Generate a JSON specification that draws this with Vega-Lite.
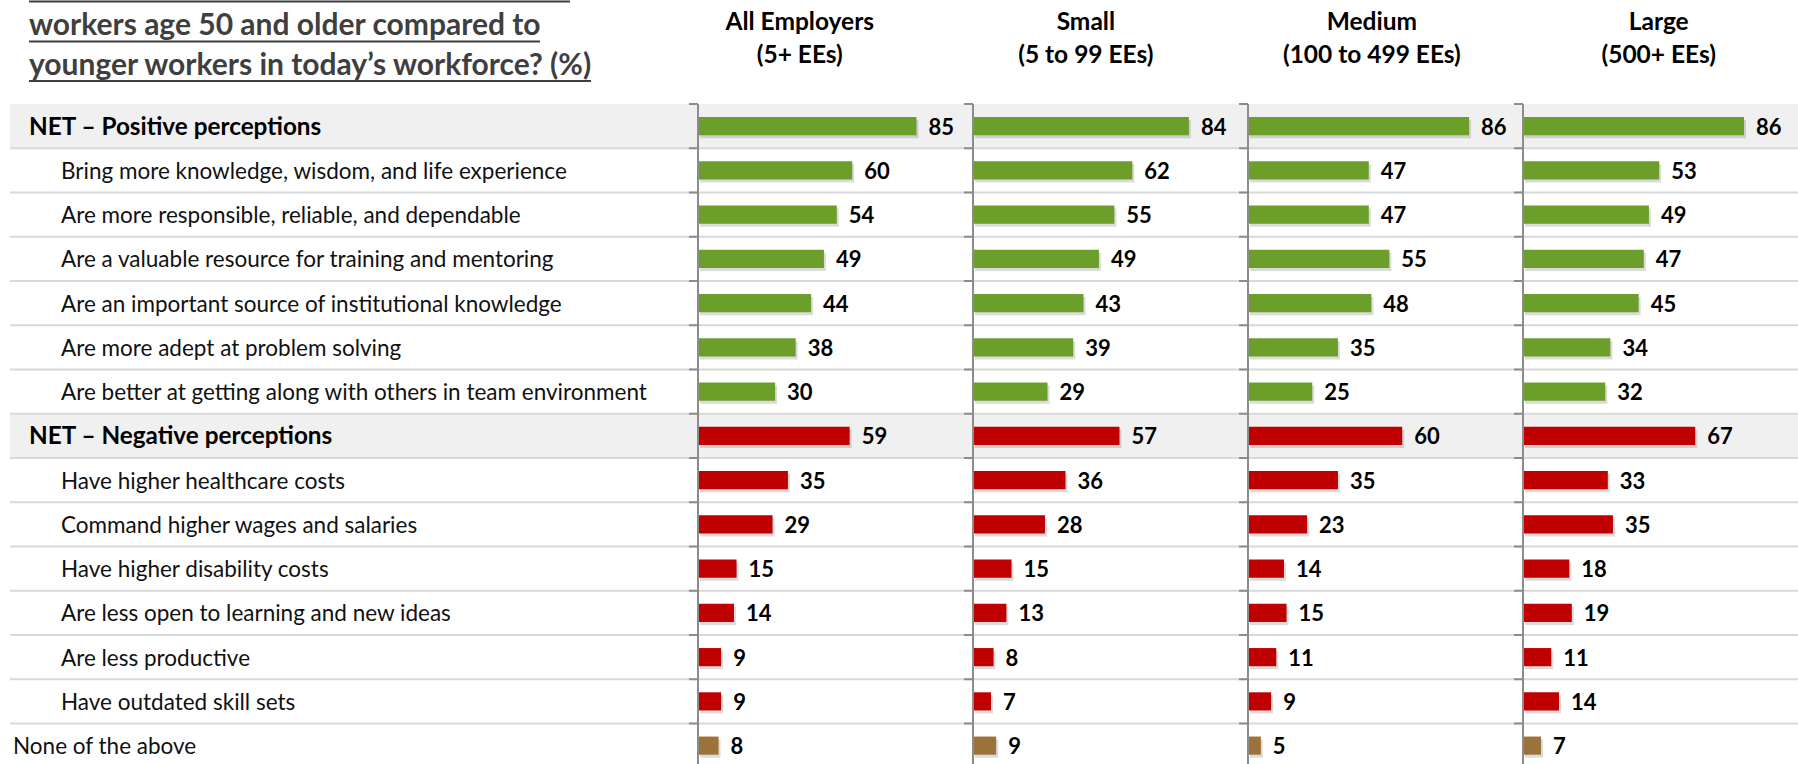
{
  "$schema": "https://vega.github.io/schema/vega-lite/v6.json",
  "padding": 0,
  "background": "white",
  "spacing": 0,
  "bounds": "flush",
  "columns": 5,
  "config": {"view": {"stroke": null}, "concat": {"spacing": 0}, "font": "Lato"},
  "datasets": {
    "rows": [
      {"item": "NET – Positive perceptions", "group": "Positive", "level": "net"},
      {"item": "Bring more knowledge, wisdom, and life experience", "group": "Positive", "level": "item"},
      {"item": "Are more responsible, reliable, and dependable", "group": "Positive", "level": "item"},
      {"item": "Are a valuable resource for training and mentoring", "group": "Positive", "level": "item"},
      {"item": "Are an important source of institutional knowledge", "group": "Positive", "level": "item"},
      {"item": "Are more adept at problem solving", "group": "Positive", "level": "item"},
      {"item": "Are better at getting along with others in team environment", "group": "Positive", "level": "item"},
      {"item": "NET – Negative perceptions", "group": "Negative", "level": "net"},
      {"item": "Have higher healthcare costs", "group": "Negative", "level": "item"},
      {"item": "Command higher wages and salaries", "group": "Negative", "level": "item"},
      {"item": "Have higher disability costs", "group": "Negative", "level": "item"},
      {"item": "Are less open to learning and new ideas", "group": "Negative", "level": "item"},
      {"item": "Are less productive", "group": "Negative", "level": "item"},
      {"item": "Have outdated skill sets", "group": "Negative", "level": "item"},
      {"item": "None of the above", "group": "None", "level": "none"}
    ],
    "vals": [
      {"seg": "All", "item": "NET – Positive perceptions", "group": "Positive", "value": 85},
      {"seg": "All", "item": "Bring more knowledge, wisdom, and life experience", "group": "Positive", "value": 60},
      {"seg": "All", "item": "Are more responsible, reliable, and dependable", "group": "Positive", "value": 54},
      {"seg": "All", "item": "Are a valuable resource for training and mentoring", "group": "Positive", "value": 49},
      {"seg": "All", "item": "Are an important source of institutional knowledge", "group": "Positive", "value": 44},
      {"seg": "All", "item": "Are more adept at problem solving", "group": "Positive", "value": 38},
      {"seg": "All", "item": "Are better at getting along with others in team environment", "group": "Positive", "value": 30},
      {"seg": "All", "item": "NET – Negative perceptions", "group": "Negative", "value": 59},
      {"seg": "All", "item": "Have higher healthcare costs", "group": "Negative", "value": 35},
      {"seg": "All", "item": "Command higher wages and salaries", "group": "Negative", "value": 29},
      {"seg": "All", "item": "Have higher disability costs", "group": "Negative", "value": 15},
      {"seg": "All", "item": "Are less open to learning and new ideas", "group": "Negative", "value": 14},
      {"seg": "All", "item": "Are less productive", "group": "Negative", "value": 9},
      {"seg": "All", "item": "Have outdated skill sets", "group": "Negative", "value": 9},
      {"seg": "All", "item": "None of the above", "group": "None", "value": 8},
      {"seg": "Small", "item": "NET – Positive perceptions", "group": "Positive", "value": 84},
      {"seg": "Small", "item": "Bring more knowledge, wisdom, and life experience", "group": "Positive", "value": 62},
      {"seg": "Small", "item": "Are more responsible, reliable, and dependable", "group": "Positive", "value": 55},
      {"seg": "Small", "item": "Are a valuable resource for training and mentoring", "group": "Positive", "value": 49},
      {"seg": "Small", "item": "Are an important source of institutional knowledge", "group": "Positive", "value": 43},
      {"seg": "Small", "item": "Are more adept at problem solving", "group": "Positive", "value": 39},
      {"seg": "Small", "item": "Are better at getting along with others in team environment", "group": "Positive", "value": 29},
      {"seg": "Small", "item": "NET – Negative perceptions", "group": "Negative", "value": 57},
      {"seg": "Small", "item": "Have higher healthcare costs", "group": "Negative", "value": 36},
      {"seg": "Small", "item": "Command higher wages and salaries", "group": "Negative", "value": 28},
      {"seg": "Small", "item": "Have higher disability costs", "group": "Negative", "value": 15},
      {"seg": "Small", "item": "Are less open to learning and new ideas", "group": "Negative", "value": 13},
      {"seg": "Small", "item": "Are less productive", "group": "Negative", "value": 8},
      {"seg": "Small", "item": "Have outdated skill sets", "group": "Negative", "value": 7},
      {"seg": "Small", "item": "None of the above", "group": "None", "value": 9},
      {"seg": "Medium", "item": "NET – Positive perceptions", "group": "Positive", "value": 86},
      {"seg": "Medium", "item": "Bring more knowledge, wisdom, and life experience", "group": "Positive", "value": 47},
      {"seg": "Medium", "item": "Are more responsible, reliable, and dependable", "group": "Positive", "value": 47},
      {"seg": "Medium", "item": "Are a valuable resource for training and mentoring", "group": "Positive", "value": 55},
      {"seg": "Medium", "item": "Are an important source of institutional knowledge", "group": "Positive", "value": 48},
      {"seg": "Medium", "item": "Are more adept at problem solving", "group": "Positive", "value": 35},
      {"seg": "Medium", "item": "Are better at getting along with others in team environment", "group": "Positive", "value": 25},
      {"seg": "Medium", "item": "NET – Negative perceptions", "group": "Negative", "value": 60},
      {"seg": "Medium", "item": "Have higher healthcare costs", "group": "Negative", "value": 35},
      {"seg": "Medium", "item": "Command higher wages and salaries", "group": "Negative", "value": 23},
      {"seg": "Medium", "item": "Have higher disability costs", "group": "Negative", "value": 14},
      {"seg": "Medium", "item": "Are less open to learning and new ideas", "group": "Negative", "value": 15},
      {"seg": "Medium", "item": "Are less productive", "group": "Negative", "value": 11},
      {"seg": "Medium", "item": "Have outdated skill sets", "group": "Negative", "value": 9},
      {"seg": "Medium", "item": "None of the above", "group": "None", "value": 5},
      {"seg": "Large", "item": "NET – Positive perceptions", "group": "Positive", "value": 86},
      {"seg": "Large", "item": "Bring more knowledge, wisdom, and life experience", "group": "Positive", "value": 53},
      {"seg": "Large", "item": "Are more responsible, reliable, and dependable", "group": "Positive", "value": 49},
      {"seg": "Large", "item": "Are a valuable resource for training and mentoring", "group": "Positive", "value": 47},
      {"seg": "Large", "item": "Are an important source of institutional knowledge", "group": "Positive", "value": 45},
      {"seg": "Large", "item": "Are more adept at problem solving", "group": "Positive", "value": 34},
      {"seg": "Large", "item": "Are better at getting along with others in team environment", "group": "Positive", "value": 32},
      {"seg": "Large", "item": "NET – Negative perceptions", "group": "Negative", "value": 67},
      {"seg": "Large", "item": "Have higher healthcare costs", "group": "Negative", "value": 33},
      {"seg": "Large", "item": "Command higher wages and salaries", "group": "Negative", "value": 35},
      {"seg": "Large", "item": "Have higher disability costs", "group": "Negative", "value": 18},
      {"seg": "Large", "item": "Are less open to learning and new ideas", "group": "Negative", "value": 19},
      {"seg": "Large", "item": "Are less productive", "group": "Negative", "value": 11},
      {"seg": "Large", "item": "Have outdated skill sets", "group": "Negative", "value": 14},
      {"seg": "Large", "item": "None of the above", "group": "None", "value": 7}
    ]
  },
  "concat": [
    {
      "width": 698, "height": 104,
      "data": {"values": [{}]},
      "layer": [
        {"mark": {"type": "text", "text": ["workers age 50 and older compared to", "younger workers in today’s workforce? (%)"], "align": "left", "baseline": "alphabetic", "fontSize": 30, "fontWeight": "bold", "color": "#3F3F3F", "lineHeight": 40},
         "encoding": {"x": {"datum": 29, "type": "quantitative", "scale": {"domain": [0, 698], "nice": false}, "axis": null},
                      "y": {"datum": 35, "type": "quantitative", "scale": {"domain": [0, 104], "nice": false, "reverse": true}, "axis": null}}},
        {"mark": {"type": "rule", "color": "#3F3F3F", "strokeWidth": 2},
         "encoding": {"x": {"datum": 29, "type": "quantitative"}, "x2": {"datum": 570}, "y": {"datum": 1.5, "type": "quantitative"}}},
        {"mark": {"type": "rule", "color": "#3F3F3F", "strokeWidth": 2},
         "encoding": {"x": {"datum": 29, "type": "quantitative"}, "x2": {"datum": 540}, "y": {"datum": 41.5, "type": "quantitative"}}},
        {"mark": {"type": "rule", "color": "#3F3F3F", "strokeWidth": 2},
         "encoding": {"x": {"datum": 29, "type": "quantitative"}, "x2": {"datum": 591}, "y": {"datum": 81, "type": "quantitative"}}}
      ]
    },
    {
      "width": 275, "height": 104,
      "data": {"values": [{}]},
      "mark": {"type": "text", "text": ["All Employers", "(5+ EEs)"], "align": "center", "baseline": "alphabetic", "fontSize": 24.5, "fontWeight": "bold", "color": "#000000", "lineHeight": 33},
      "encoding": {"x": {"datum": 39.6, "type": "quantitative", "scale": {"domain": [0, 107], "nice": false}, "axis": null},
                   "y": {"datum": 30, "type": "quantitative", "scale": {"domain": [0, 104], "nice": false, "reverse": true}, "axis": null}}
    },
    {
      "width": 275, "height": 104,
      "data": {"values": [{}]},
      "mark": {"type": "text", "text": ["Small", "(5 to 99 EEs)"], "align": "center", "baseline": "alphabetic", "fontSize": 24.5, "fontWeight": "bold", "color": "#000000", "lineHeight": 33},
      "encoding": {"x": {"datum": 43.9, "type": "quantitative", "scale": {"domain": [0, 107], "nice": false}, "axis": null},
                   "y": {"datum": 30, "type": "quantitative", "scale": {"domain": [0, 104], "nice": false, "reverse": true}, "axis": null}}
    },
    {
      "width": 275, "height": 104,
      "data": {"values": [{}]},
      "mark": {"type": "text", "text": ["Medium", "(100 to 499 EEs)"], "align": "center", "baseline": "alphabetic", "fontSize": 24.5, "fontWeight": "bold", "color": "#000000", "lineHeight": 33},
      "encoding": {"x": {"datum": 48.2, "type": "quantitative", "scale": {"domain": [0, 107], "nice": false}, "axis": null},
                   "y": {"datum": 30, "type": "quantitative", "scale": {"domain": [0, 104], "nice": false, "reverse": true}, "axis": null}}
    },
    {
      "width": 275, "height": 104,
      "data": {"values": [{}]},
      "mark": {"type": "text", "text": ["Large", "(500+ EEs)"], "align": "center", "baseline": "alphabetic", "fontSize": 24.5, "fontWeight": "bold", "color": "#000000", "lineHeight": 33},
      "encoding": {"x": {"datum": 52.8, "type": "quantitative", "scale": {"domain": [0, 107], "nice": false}, "axis": null},
                   "y": {"datum": 30, "type": "quantitative", "scale": {"domain": [0, 104], "nice": false, "reverse": true}, "axis": null}}
    },
    {
      "width": 698, "height": 660,
      "data": {"name": "rows"},
      "encoding": {"y": {"field": "item", "type": "nominal", "axis": null,
        "scale": {"domain": ["NET – Positive perceptions", "Bring more knowledge, wisdom, and life experience", "Are more responsible, reliable, and dependable", "Are a valuable resource for training and mentoring", "Are an important source of institutional knowledge", "Are more adept at problem solving", "Are better at getting along with others in team environment", "NET – Negative perceptions", "Have higher healthcare costs", "Command higher wages and salaries", "Have higher disability costs", "Are less open to learning and new ideas", "Are less productive", "Have outdated skill sets", "None of the above"], "range": [0, 663.75], "paddingInner": 0, "paddingOuter": 0, "align": 0}}},
      "layer": [
        {"transform": [{"filter": "datum.level === 'net'"}],
         "mark": {"type": "rect", "color": "#F0F0F0"},
         "encoding": {"x": {"datum": 10, "type": "quantitative", "scale": {"domain": [0, 698], "nice": false}, "axis": null}, "x2": {"datum": 698}}},
        {"transform": [{"filter": "datum.level !== 'none'"}],
         "mark": {"type": "rule", "color": "#D9D9D9", "strokeWidth": 2},
         "encoding": {"x": {"datum": 10, "type": "quantitative"}, "x2": {"datum": 698},
           "y": {"field": "item", "type": "nominal", "bandPosition": 1, "axis": null,
             "scale": {"domain": ["NET – Positive perceptions", "Bring more knowledge, wisdom, and life experience", "Are more responsible, reliable, and dependable", "Are a valuable resource for training and mentoring", "Are an important source of institutional knowledge", "Are more adept at problem solving", "Are better at getting along with others in team environment", "NET – Negative perceptions", "Have higher healthcare costs", "Command higher wages and salaries", "Have higher disability costs", "Are less open to learning and new ideas", "Are less productive", "Have outdated skill sets", "None of the above"], "range": [0, 663.75], "paddingInner": 0, "paddingOuter": 0, "align": 0}}}},
        {"transform": [{"filter": "datum.level === 'net'"}],
         "mark": {"type": "text", "align": "left", "baseline": "middle", "dy": 1.5, "fontSize": 24.3, "fontWeight": "bold", "color": "#000000"},
         "encoding": {"x": {"datum": 29, "type": "quantitative"}, "text": {"field": "item"}}},
        {"transform": [{"filter": "datum.level === 'item'"}],
         "mark": {"type": "text", "align": "left", "baseline": "middle", "dy": 1.5, "fontSize": 22.5, "color": "#111111"},
         "encoding": {"x": {"datum": 61, "type": "quantitative"}, "text": {"field": "item"}}},
        {"transform": [{"filter": "datum.level === 'none'"}],
         "mark": {"type": "text", "align": "left", "baseline": "middle", "dy": 1.5, "fontSize": 22.5, "color": "#111111"},
         "encoding": {"x": {"datum": 13, "type": "quantitative"}, "text": {"field": "item"}}}
      ]
    },
    {
      "width": 275, "height": 660,
      "data": {"name": "rows"},
      "encoding": {"y": {"field": "item", "type": "nominal", "axis": null,
        "scale": {"domain": ["NET – Positive perceptions", "Bring more knowledge, wisdom, and life experience", "Are more responsible, reliable, and dependable", "Are a valuable resource for training and mentoring", "Are an important source of institutional knowledge", "Are more adept at problem solving", "Are better at getting along with others in team environment", "NET – Negative perceptions", "Have higher healthcare costs", "Command higher wages and salaries", "Have higher disability costs", "Are less open to learning and new ideas", "Are less productive", "Have outdated skill sets", "None of the above"], "range": [0, 663.75], "paddingInner": 0, "paddingOuter": 0, "align": 0}}},
      "layer": [
        {"transform": [{"filter": "datum.level === 'net'"}],
         "mark": {"type": "rect", "color": "#F0F0F0"},
         "encoding": {"x": {"datum": 0, "type": "quantitative", "scale": {"domain": [0, 107], "nice": false}, "axis": null}, "x2": {"datum": 107}}},
        {"transform": [{"filter": "datum.level !== 'none'"}],
         "mark": {"type": "rule", "color": "#D9D9D9", "strokeWidth": 2},
         "encoding": {"x": {"datum": 0, "type": "quantitative"}, "x2": {"datum": 107},
           "y": {"field": "item", "type": "nominal", "bandPosition": 1, "axis": null,
             "scale": {"domain": ["NET – Positive perceptions", "Bring more knowledge, wisdom, and life experience", "Are more responsible, reliable, and dependable", "Are a valuable resource for training and mentoring", "Are an important source of institutional knowledge", "Are more adept at problem solving", "Are better at getting along with others in team environment", "NET – Negative perceptions", "Have higher healthcare costs", "Command higher wages and salaries", "Have higher disability costs", "Are less open to learning and new ideas", "Are less productive", "Have outdated skill sets", "None of the above"], "range": [0, 663.75], "paddingInner": 0, "paddingOuter": 0, "align": 0}}}},
        {"data": {"name": "vals"}, "transform": [{"filter": "datum.seg === 'All'"}],
         "mark": {"type": "bar", "height": {"band": 0.41}, "color": "#000000", "opacity": 0.14, "xOffset": 2, "yOffset": 3},
         "encoding": {"x": {"field": "value", "type": "quantitative"}}},
        {"data": {"name": "vals"}, "transform": [{"filter": "datum.seg === 'All'"}],
         "mark": {"type": "bar", "height": {"band": 0.41}},
         "encoding": {"x": {"field": "value", "type": "quantitative"},
           "color": {"field": "group", "type": "nominal", "legend": null, "scale": {"domain": ["Positive", "Negative", "None"], "range": ["#6B9F2A", "#C00000", "#9B733A"]}}}},
        {"data": {"name": "vals"}, "transform": [{"filter": "datum.seg === 'All'"}],
         "mark": {"type": "text", "align": "left", "baseline": "middle", "dx": 12, "dy": 1.5, "fontSize": 22, "fontWeight": "bold", "color": "#000000"},
         "encoding": {"x": {"field": "value", "type": "quantitative"}, "text": {"field": "value", "type": "quantitative"}}},
        {"mark": {"type": "rule", "color": "#8C8C8C", "strokeWidth": 2},
         "encoding": {"x": {"datum": -3.5, "type": "quantitative"}, "x2": {"datum": 0},
           "y": {"field": "item", "type": "nominal", "bandPosition": 0, "axis": null,
             "scale": {"domain": ["NET – Positive perceptions", "Bring more knowledge, wisdom, and life experience", "Are more responsible, reliable, and dependable", "Are a valuable resource for training and mentoring", "Are an important source of institutional knowledge", "Are more adept at problem solving", "Are better at getting along with others in team environment", "NET – Negative perceptions", "Have higher healthcare costs", "Command higher wages and salaries", "Have higher disability costs", "Are less open to learning and new ideas", "Are less productive", "Have outdated skill sets", "None of the above"], "range": [0, 663.75], "paddingInner": 0, "paddingOuter": 0, "align": 0}}}},
        {"data": {"values": [{}]},
         "mark": {"type": "rule", "color": "#8C8C8C", "strokeWidth": 2},
         "encoding": {"x": {"datum": 0, "type": "quantitative"}, "y": {"value": 0}, "y2": {"value": "height"}}}
      ]
    },
    {
      "width": 275, "height": 660,
      "data": {"name": "rows"},
      "encoding": {"y": {"field": "item", "type": "nominal", "axis": null,
        "scale": {"domain": ["NET – Positive perceptions", "Bring more knowledge, wisdom, and life experience", "Are more responsible, reliable, and dependable", "Are a valuable resource for training and mentoring", "Are an important source of institutional knowledge", "Are more adept at problem solving", "Are better at getting along with others in team environment", "NET – Negative perceptions", "Have higher healthcare costs", "Command higher wages and salaries", "Have higher disability costs", "Are less open to learning and new ideas", "Are less productive", "Have outdated skill sets", "None of the above"], "range": [0, 663.75], "paddingInner": 0, "paddingOuter": 0, "align": 0}}},
      "layer": [
        {"transform": [{"filter": "datum.level === 'net'"}],
         "mark": {"type": "rect", "color": "#F0F0F0"},
         "encoding": {"x": {"datum": 0, "type": "quantitative", "scale": {"domain": [0, 107], "nice": false}, "axis": null}, "x2": {"datum": 107}}},
        {"transform": [{"filter": "datum.level !== 'none'"}],
         "mark": {"type": "rule", "color": "#D9D9D9", "strokeWidth": 2},
         "encoding": {"x": {"datum": 0, "type": "quantitative"}, "x2": {"datum": 107},
           "y": {"field": "item", "type": "nominal", "bandPosition": 1, "axis": null,
             "scale": {"domain": ["NET – Positive perceptions", "Bring more knowledge, wisdom, and life experience", "Are more responsible, reliable, and dependable", "Are a valuable resource for training and mentoring", "Are an important source of institutional knowledge", "Are more adept at problem solving", "Are better at getting along with others in team environment", "NET – Negative perceptions", "Have higher healthcare costs", "Command higher wages and salaries", "Have higher disability costs", "Are less open to learning and new ideas", "Are less productive", "Have outdated skill sets", "None of the above"], "range": [0, 663.75], "paddingInner": 0, "paddingOuter": 0, "align": 0}}}},
        {"data": {"name": "vals"}, "transform": [{"filter": "datum.seg === 'Small'"}],
         "mark": {"type": "bar", "height": {"band": 0.41}, "color": "#000000", "opacity": 0.14, "xOffset": 2, "yOffset": 3},
         "encoding": {"x": {"field": "value", "type": "quantitative"}}},
        {"data": {"name": "vals"}, "transform": [{"filter": "datum.seg === 'Small'"}],
         "mark": {"type": "bar", "height": {"band": 0.41}},
         "encoding": {"x": {"field": "value", "type": "quantitative"},
           "color": {"field": "group", "type": "nominal", "legend": null, "scale": {"domain": ["Positive", "Negative", "None"], "range": ["#6B9F2A", "#C00000", "#9B733A"]}}}},
        {"data": {"name": "vals"}, "transform": [{"filter": "datum.seg === 'Small'"}],
         "mark": {"type": "text", "align": "left", "baseline": "middle", "dx": 12, "dy": 1.5, "fontSize": 22, "fontWeight": "bold", "color": "#000000"},
         "encoding": {"x": {"field": "value", "type": "quantitative"}, "text": {"field": "value", "type": "quantitative"}}},
        {"mark": {"type": "rule", "color": "#8C8C8C", "strokeWidth": 2},
         "encoding": {"x": {"datum": -3.5, "type": "quantitative"}, "x2": {"datum": 0},
           "y": {"field": "item", "type": "nominal", "bandPosition": 0, "axis": null,
             "scale": {"domain": ["NET – Positive perceptions", "Bring more knowledge, wisdom, and life experience", "Are more responsible, reliable, and dependable", "Are a valuable resource for training and mentoring", "Are an important source of institutional knowledge", "Are more adept at problem solving", "Are better at getting along with others in team environment", "NET – Negative perceptions", "Have higher healthcare costs", "Command higher wages and salaries", "Have higher disability costs", "Are less open to learning and new ideas", "Are less productive", "Have outdated skill sets", "None of the above"], "range": [0, 663.75], "paddingInner": 0, "paddingOuter": 0, "align": 0}}}},
        {"data": {"values": [{}]},
         "mark": {"type": "rule", "color": "#8C8C8C", "strokeWidth": 2},
         "encoding": {"x": {"datum": 0, "type": "quantitative"}, "y": {"value": 0}, "y2": {"value": "height"}}}
      ]
    },
    {
      "width": 275, "height": 660,
      "data": {"name": "rows"},
      "encoding": {"y": {"field": "item", "type": "nominal", "axis": null,
        "scale": {"domain": ["NET – Positive perceptions", "Bring more knowledge, wisdom, and life experience", "Are more responsible, reliable, and dependable", "Are a valuable resource for training and mentoring", "Are an important source of institutional knowledge", "Are more adept at problem solving", "Are better at getting along with others in team environment", "NET – Negative perceptions", "Have higher healthcare costs", "Command higher wages and salaries", "Have higher disability costs", "Are less open to learning and new ideas", "Are less productive", "Have outdated skill sets", "None of the above"], "range": [0, 663.75], "paddingInner": 0, "paddingOuter": 0, "align": 0}}},
      "layer": [
        {"transform": [{"filter": "datum.level === 'net'"}],
         "mark": {"type": "rect", "color": "#F0F0F0"},
         "encoding": {"x": {"datum": 0, "type": "quantitative", "scale": {"domain": [0, 107], "nice": false}, "axis": null}, "x2": {"datum": 107}}},
        {"transform": [{"filter": "datum.level !== 'none'"}],
         "mark": {"type": "rule", "color": "#D9D9D9", "strokeWidth": 2},
         "encoding": {"x": {"datum": 0, "type": "quantitative"}, "x2": {"datum": 107},
           "y": {"field": "item", "type": "nominal", "bandPosition": 1, "axis": null,
             "scale": {"domain": ["NET – Positive perceptions", "Bring more knowledge, wisdom, and life experience", "Are more responsible, reliable, and dependable", "Are a valuable resource for training and mentoring", "Are an important source of institutional knowledge", "Are more adept at problem solving", "Are better at getting along with others in team environment", "NET – Negative perceptions", "Have higher healthcare costs", "Command higher wages and salaries", "Have higher disability costs", "Are less open to learning and new ideas", "Are less productive", "Have outdated skill sets", "None of the above"], "range": [0, 663.75], "paddingInner": 0, "paddingOuter": 0, "align": 0}}}},
        {"data": {"name": "vals"}, "transform": [{"filter": "datum.seg === 'Medium'"}],
         "mark": {"type": "bar", "height": {"band": 0.41}, "color": "#000000", "opacity": 0.14, "xOffset": 2, "yOffset": 3},
         "encoding": {"x": {"field": "value", "type": "quantitative"}}},
        {"data": {"name": "vals"}, "transform": [{"filter": "datum.seg === 'Medium'"}],
         "mark": {"type": "bar", "height": {"band": 0.41}},
         "encoding": {"x": {"field": "value", "type": "quantitative"},
           "color": {"field": "group", "type": "nominal", "legend": null, "scale": {"domain": ["Positive", "Negative", "None"], "range": ["#6B9F2A", "#C00000", "#9B733A"]}}}},
        {"data": {"name": "vals"}, "transform": [{"filter": "datum.seg === 'Medium'"}],
         "mark": {"type": "text", "align": "left", "baseline": "middle", "dx": 12, "dy": 1.5, "fontSize": 22, "fontWeight": "bold", "color": "#000000"},
         "encoding": {"x": {"field": "value", "type": "quantitative"}, "text": {"field": "value", "type": "quantitative"}}},
        {"mark": {"type": "rule", "color": "#8C8C8C", "strokeWidth": 2},
         "encoding": {"x": {"datum": -3.5, "type": "quantitative"}, "x2": {"datum": 0},
           "y": {"field": "item", "type": "nominal", "bandPosition": 0, "axis": null,
             "scale": {"domain": ["NET – Positive perceptions", "Bring more knowledge, wisdom, and life experience", "Are more responsible, reliable, and dependable", "Are a valuable resource for training and mentoring", "Are an important source of institutional knowledge", "Are more adept at problem solving", "Are better at getting along with others in team environment", "NET – Negative perceptions", "Have higher healthcare costs", "Command higher wages and salaries", "Have higher disability costs", "Are less open to learning and new ideas", "Are less productive", "Have outdated skill sets", "None of the above"], "range": [0, 663.75], "paddingInner": 0, "paddingOuter": 0, "align": 0}}}},
        {"data": {"values": [{}]},
         "mark": {"type": "rule", "color": "#8C8C8C", "strokeWidth": 2},
         "encoding": {"x": {"datum": 0, "type": "quantitative"}, "y": {"value": 0}, "y2": {"value": "height"}}}
      ]
    },
    {
      "width": 275, "height": 660,
      "data": {"name": "rows"},
      "encoding": {"y": {"field": "item", "type": "nominal", "axis": null,
        "scale": {"domain": ["NET – Positive perceptions", "Bring more knowledge, wisdom, and life experience", "Are more responsible, reliable, and dependable", "Are a valuable resource for training and mentoring", "Are an important source of institutional knowledge", "Are more adept at problem solving", "Are better at getting along with others in team environment", "NET – Negative perceptions", "Have higher healthcare costs", "Command higher wages and salaries", "Have higher disability costs", "Are less open to learning and new ideas", "Are less productive", "Have outdated skill sets", "None of the above"], "range": [0, 663.75], "paddingInner": 0, "paddingOuter": 0, "align": 0}}},
      "layer": [
        {"transform": [{"filter": "datum.level === 'net'"}],
         "mark": {"type": "rect", "color": "#F0F0F0"},
         "encoding": {"x": {"datum": 0, "type": "quantitative", "scale": {"domain": [0, 107], "nice": false}, "axis": null}, "x2": {"datum": 107}}},
        {"transform": [{"filter": "datum.level !== 'none'"}],
         "mark": {"type": "rule", "color": "#D9D9D9", "strokeWidth": 2},
         "encoding": {"x": {"datum": 0, "type": "quantitative"}, "x2": {"datum": 107},
           "y": {"field": "item", "type": "nominal", "bandPosition": 1, "axis": null,
             "scale": {"domain": ["NET – Positive perceptions", "Bring more knowledge, wisdom, and life experience", "Are more responsible, reliable, and dependable", "Are a valuable resource for training and mentoring", "Are an important source of institutional knowledge", "Are more adept at problem solving", "Are better at getting along with others in team environment", "NET – Negative perceptions", "Have higher healthcare costs", "Command higher wages and salaries", "Have higher disability costs", "Are less open to learning and new ideas", "Are less productive", "Have outdated skill sets", "None of the above"], "range": [0, 663.75], "paddingInner": 0, "paddingOuter": 0, "align": 0}}}},
        {"data": {"name": "vals"}, "transform": [{"filter": "datum.seg === 'Large'"}],
         "mark": {"type": "bar", "height": {"band": 0.41}, "color": "#000000", "opacity": 0.14, "xOffset": 2, "yOffset": 3},
         "encoding": {"x": {"field": "value", "type": "quantitative"}}},
        {"data": {"name": "vals"}, "transform": [{"filter": "datum.seg === 'Large'"}],
         "mark": {"type": "bar", "height": {"band": 0.41}},
         "encoding": {"x": {"field": "value", "type": "quantitative"},
           "color": {"field": "group", "type": "nominal", "legend": null, "scale": {"domain": ["Positive", "Negative", "None"], "range": ["#6B9F2A", "#C00000", "#9B733A"]}}}},
        {"data": {"name": "vals"}, "transform": [{"filter": "datum.seg === 'Large'"}],
         "mark": {"type": "text", "align": "left", "baseline": "middle", "dx": 12, "dy": 1.5, "fontSize": 22, "fontWeight": "bold", "color": "#000000"},
         "encoding": {"x": {"field": "value", "type": "quantitative"}, "text": {"field": "value", "type": "quantitative"}}},
        {"mark": {"type": "rule", "color": "#8C8C8C", "strokeWidth": 2},
         "encoding": {"x": {"datum": -3.5, "type": "quantitative"}, "x2": {"datum": 0},
           "y": {"field": "item", "type": "nominal", "bandPosition": 0, "axis": null,
             "scale": {"domain": ["NET – Positive perceptions", "Bring more knowledge, wisdom, and life experience", "Are more responsible, reliable, and dependable", "Are a valuable resource for training and mentoring", "Are an important source of institutional knowledge", "Are more adept at problem solving", "Are better at getting along with others in team environment", "NET – Negative perceptions", "Have higher healthcare costs", "Command higher wages and salaries", "Have higher disability costs", "Are less open to learning and new ideas", "Are less productive", "Have outdated skill sets", "None of the above"], "range": [0, 663.75], "paddingInner": 0, "paddingOuter": 0, "align": 0}}}},
        {"data": {"values": [{}]},
         "mark": {"type": "rule", "color": "#8C8C8C", "strokeWidth": 2},
         "encoding": {"x": {"datum": 0, "type": "quantitative"}, "y": {"value": 0}, "y2": {"value": "height"}}}
      ]
    }
  ]
}
